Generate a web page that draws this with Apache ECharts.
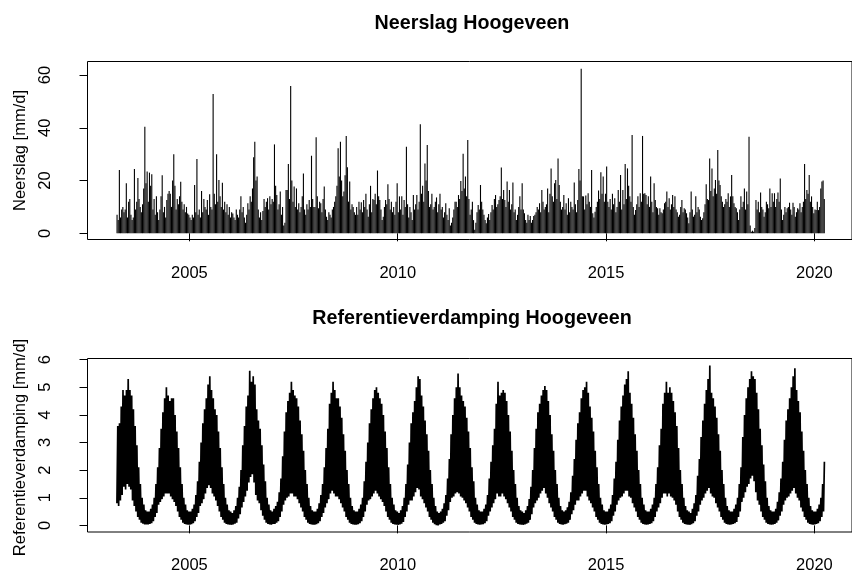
<!DOCTYPE html>
<html>
<head>
<meta charset="utf-8">
<script src="https://cdn.jsdelivr.net/npm/echarts@6.0.0/dist/echarts.min.js"></script>
<style>
  html, body { margin: 0; padding: 0; background: #fff; }
  #chart { width: 852px; height: 574px; }
</style>
</head>
<body>
<div id="chart"></div>
<script>
// Dagneerslag Hoogeveen, hoogste waarde per decade (mm/d), april 2003 t/m maart 2020
const neerslagStartJaar = 2003;
const neerslagStartDecade = 9; // eerste decade van april
const neerslag = [
  /* 2003 */ 7,5,24,6,9,10,8,9,19,6,12,13,7,5,6,24.4,9,12,21,13,10,8,11,17,40.4,19,23.4,
  /* 2004 */ 12,23,18,22.4,9,13,7,14,8,5,9,14,22,8,10,6,12.6,15,16,15,10,20,30,18,9,13,11,14,19.5,12,9,11,8,10,7.5,7,
  /* 2005 */ 6,5,7,6,18.3,8,28.2,7,9,6,16,8,13,10,9,12.6,7,14.8,10,9,52.8,15,11,30,12,20.2,14,10,19.2,9,12,8,11,7,10,6,
  /* 2006 */ 8,7.5,6,5,9,7,6,9,14,8,10,6,4,7,11.4,9,14,12,17,28.8,34.7,20,21.5,9,6,8,5,8.5,13,10,12,13.3,9,14,11,13,
  /* 2007 */ 12,33.7,18,14.5,9,11,15.8,7,10,3,4,16.4,16.4,26.3,13,55.8,20,12,17.7,10,17,9,11.4,8,10,14,22.7,9,7,11,9,12.6,10,29.4,13,10,
  /* 2008 */ 10,36.4,14,9.5,12,11.4,8,13,17.7,9,6.3,5,8,7,6,9,10,12,14,18,32.2,21.5,34.7,20,14,15.8,22,36.9,25,12,19.6,9,11,10,8,7,
  /* 2009 */ 10,7,12,9,11.8,8,12.6,10,15,9,6.3,11,18,8,13,12.6,15,11,23.8,14,12.6,9,5,6.3,10,12.6,11,18.6,13,9,12,8,10,7,12,19,
  /* 2010 */ 8,14,9,14,7,12.6,10,32.8,11,6,10,8,5,14.5,9,11,14.5,9,12,41.3,15,18,12,26.5,20,33.5,16,10,11,15,9,10,12,13.6,8,11,
  /* 2011 */ 15,9,10,6,8,11.4,7,5,9.5,3,4,6,9,12,12,10,14.5,13,19.8,16,30.2,17,21.5,14,35.4,13,7,9,12,5,1.3,4,8,10.7,9,18.3,
  /* 2012 */ 12,9,7,5,3.8,6,7.3,5,8,10.7,9,13,14.5,10,11,12.6,14,24.9,13,16.4,12.6,10,19.6,12,16.4,9,11,19.3,8,9,5,7,10,14,9,19,
  /* 2013 */ 9,7.6,5,4,7,5,6.6,4,5,6.6,7,8,10,9,11.4,8,16.4,12,9,10,11,17,8,15,24.6,14,12,19,20.2,13,28.4,18.3,12,9,10,14.5,
  /* 2014 */ 9,11.4,7,13.3,8,12,10,9,19.3,11,8,12.6,24.4,20,62.4,14,14,9,14.3,11,15.2,12,10,24,7.6,6,8.2,10,12,16.2,13,23.1,15,21.5,12,15,
  /* 2015 */ 25.3,12,10,13,9,15,11,13.3,8,10,16.4,12,22.1,9,16.4,11,26.3,13,24.6,18,14,12,37.3,10,7,8.8,11,14,10,15.2,12,36.9,15,15.2,14.5,11,
  /* 2016 */ 14,10,21.5,12,8,19,12.6,10,9.5,7,9.5,8,7.6,9,11.4,12,15.8,10,13.3,9,11,14.5,10,14,9,8,6.3,7,10,12.6,8,9.5,9,7.6,6,3.8,
  /* 2017 */ 8,15.8,9,6.3,7,14,8,10,9,6.3,5,5.7,8,11,18.6,13,12.6,28.4,16,24.6,14,17,20.2,15,31.6,20,18.3,14,12,10,11,13,12,15.2,10,14,
  /* 2018 */ 22.1,14,11.4,10,9.5,8,5,9,14,10,12,17,9,15.8,11,36.6,3,0.6,1,0.6,2,12.6,9,12,8,15.5,10,9,6.3,8,12,11,9.5,17,10,15.2,
  /* 2019 */ 12,15.2,10,13,15.5,12,20.8,9,5,7,10,8,9.5,10,11.6,9,7,11.6,10,6.3,8,9.5,9,11.4,8,10,12,26.3,13,16.4,15,22.1,12,14,10,7.6,
  /* 2020 */ 9,8.8,12,8.8,10,17,19.6,20,13
];

// Referentieverdamping Hoogeveen per halve maand: hoogste en laagste dagwaarde (mm/d)
const verdampingStartJaar = 2003;
const verdampingStartHalveMaand = 6; // eerste helft van april
const verdampingMax = [
  /* 2003 */ 3.6,3.7,4.3,4.9,4.7,4.9,5.3,4.9,4.7,4.2,3.6,2.9,2.1,1.5,1.0,0.75,0.55,0.5,
  /* 2004 */ 0.5,0.6,0.75,1.0,1.5,2.1,2.8,3.5,4.1,4.6,5.0,4.7,4.5,4.6,4.6,4.0,3.4,2.8,2.1,1.5,1.0,0.75,0.55,0.5,
  /* 2005 */ 0.5,0.6,0.75,1.1,1.6,2.3,3.0,3.7,4.2,4.6,5.1,5.4,4.9,4.6,4.2,4.0,3.4,2.8,2.1,1.5,1.0,0.75,0.55,0.5,
  /* 2006 */ 0.45,0.55,0.7,1.0,1.4,2.0,2.9,3.6,4.3,4.7,5.6,5.2,5.4,5.1,4.2,3.8,3.5,2.9,2.2,1.6,1.0,0.75,0.55,0.5,
  /* 2007 */ 0.6,0.7,0.85,1.2,1.7,2.5,3.4,4.1,4.5,4.8,5.2,4.9,4.7,4.6,4.3,3.8,3.3,2.7,2.0,1.5,1.0,0.7,0.55,0.5,
  /* 2008 */ 0.5,0.6,0.8,1.1,1.5,2.1,2.8,3.5,4.4,4.8,5.2,4.9,4.6,4.6,4.3,3.9,3.3,2.7,2.0,1.5,1.0,0.7,0.55,0.5,
  /* 2009 */ 0.5,0.6,0.75,1.0,1.6,2.3,3.0,3.7,4.2,4.6,4.9,5.0,4.8,4.6,4.4,4.0,3.4,2.8,2.1,1.5,1.0,0.75,0.55,0.5,
  /* 2010 */ 0.45,0.55,0.7,1.0,1.5,2.2,3.0,3.7,4.1,4.5,5.0,5.4,5.3,4.7,4.3,3.8,3.3,2.7,2.0,1.5,1.0,0.7,0.5,0.45,
  /* 2011 */ 0.5,0.6,0.8,1.1,1.7,2.4,3.3,4.0,4.6,5.0,5.5,5.0,4.7,4.5,4.3,3.9,3.4,2.8,2.1,1.6,1.0,0.75,0.55,0.5,
  /* 2012 */ 0.5,0.6,0.75,1.1,1.7,2.3,2.9,3.5,4.4,5.2,4.7,4.8,4.9,4.8,4.5,4.0,3.4,2.7,2.0,1.5,1.0,0.7,0.55,0.5,
  /* 2013 */ 0.45,0.55,0.7,0.95,1.4,2.0,2.8,3.5,4.1,4.4,4.7,4.9,5.05,4.9,4.5,4.0,3.3,2.7,2.0,1.5,1.0,0.7,0.55,0.5,
  /* 2014 */ 0.55,0.65,0.85,1.2,1.8,2.4,3.1,3.7,4.1,4.6,4.9,5.0,5.2,4.8,4.3,3.9,3.4,2.7,2.1,1.5,1.0,0.75,0.55,0.5,
  /* 2015 */ 0.5,0.6,0.75,1.1,1.7,2.3,3.1,3.8,4.3,4.7,5.1,5.3,5.58,4.8,4.4,3.9,3.3,2.7,2.0,1.5,1.0,0.75,0.55,0.5,
  /* 2016 */ 0.5,0.6,0.75,1.0,1.5,2.1,2.9,3.5,4.4,4.8,5.2,4.8,5.0,4.8,4.5,4.1,3.6,2.8,2.0,1.5,1.0,0.7,0.55,0.5,
  /* 2017 */ 0.45,0.6,0.8,1.1,1.8,2.4,3.2,3.8,4.4,4.9,5.3,5.79,4.8,4.6,4.3,3.9,3.3,2.7,2.0,1.5,1.0,0.7,0.55,0.5,
  /* 2018 */ 0.5,0.6,0.75,1.0,1.5,2.1,3.2,4.0,4.6,5.0,5.3,5.58,5.4,5.3,4.8,4.2,3.5,2.9,2.2,1.6,1.0,0.7,0.55,0.5,
  /* 2019 */ 0.5,0.6,0.85,1.2,1.7,2.3,3.1,3.8,4.2,4.6,5.0,5.4,5.69,4.9,4.5,4.1,3.4,2.7,2.0,1.5,1.0,0.7,0.55,0.5,
  /* 2020 */ 0.5,0.6,0.75,1.0,1.5,2.3
];
const verdampingMin = [
  /* 2003 */ 0.8,0.7,0.9,1.1,1.4,1.3,1.5,1.4,1.3,0.9,0.7,0.5,0.3,0.2,0.1,0.06,0.03,0.03,
  /* 2004 */ 0.03,0.05,0.08,0.15,0.3,0.45,0.75,0.85,0.95,1.05,1.15,1.15,1.15,1.05,0.95,0.85,0.7,0.5,0.3,0.2,0.1,0.05,0.03,0.02,
  /* 2005 */ 0.02,0.04,0.08,0.15,0.3,0.45,0.7,0.8,0.95,1.15,1.35,1.45,1.35,1.15,1.05,0.9,0.7,0.5,0.3,0.2,0.1,0.05,0.03,0.02,
  /* 2006 */ 0.02,0.03,0.06,0.1,0.25,0.4,0.65,0.85,1.05,1.25,1.55,1.75,1.85,1.55,1.1,0.9,0.8,0.55,0.35,0.2,0.1,0.05,0.03,0.02,
  /* 2007 */ 0.05,0.05,0.1,0.15,0.3,0.5,0.75,0.9,1.0,1.05,1.15,1.15,1.05,1.05,0.95,0.8,0.65,0.5,0.3,0.2,0.1,0.05,0.03,0.02,
  /* 2008 */ 0.02,0.04,0.08,0.15,0.3,0.45,0.65,0.8,0.95,1.15,1.25,1.15,1.05,1.05,0.95,0.8,0.65,0.5,0.3,0.2,0.1,0.05,0.03,0.02,
  /* 2009 */ 0.02,0.04,0.08,0.15,0.3,0.5,0.75,0.9,0.95,1.05,1.15,1.25,1.15,1.05,0.95,0.85,0.7,0.5,0.3,0.2,0.1,0.05,0.03,0.02,
  /* 2010 */ 0.02,0.03,0.06,0.12,0.3,0.5,0.75,0.9,0.9,1.05,1.2,1.35,1.3,1.05,0.95,0.8,0.65,0.5,0.3,0.2,0.1,0.04,0.01,0.0,
  /* 2011 */ 0.03,0.05,0.1,0.15,0.35,0.55,0.85,1.0,1.05,1.15,1.2,1.15,1.05,1.0,0.9,0.8,0.65,0.5,0.3,0.2,0.1,0.05,0.03,0.02,
  /* 2012 */ 0.03,0.04,0.08,0.15,0.35,0.5,0.65,0.8,0.95,1.15,1.05,1.05,1.15,1.05,0.95,0.8,0.65,0.5,0.3,0.2,0.1,0.05,0.03,0.02,
  /* 2013 */ 0.02,0.03,0.06,0.1,0.2,0.4,0.65,0.8,0.9,1.0,1.15,1.25,1.35,1.15,1.0,0.8,0.65,0.5,0.3,0.2,0.1,0.05,0.03,0.02,
  /* 2014 */ 0.04,0.06,0.1,0.2,0.4,0.55,0.75,0.9,0.9,1.05,1.15,1.25,1.25,1.05,0.9,0.8,0.65,0.5,0.3,0.2,0.1,0.05,0.03,0.02,
  /* 2015 */ 0.03,0.05,0.08,0.15,0.35,0.5,0.75,0.9,1.0,1.05,1.15,1.25,1.25,1.05,1.0,0.8,0.65,0.5,0.3,0.2,0.1,0.05,0.03,0.02,
  /* 2016 */ 0.03,0.05,0.08,0.15,0.3,0.5,0.65,0.8,1.0,1.15,1.15,1.05,1.15,1.05,1.0,0.9,0.75,0.5,0.3,0.2,0.1,0.05,0.03,0.02,
  /* 2017 */ 0.02,0.04,0.08,0.15,0.35,0.5,0.75,0.9,1.0,1.15,1.25,1.35,1.15,1.05,1.0,0.8,0.65,0.5,0.3,0.2,0.1,0.05,0.03,0.02,
  /* 2018 */ 0.03,0.05,0.08,0.12,0.3,0.5,0.85,1.0,1.2,1.4,1.5,1.7,1.8,1.6,1.2,0.9,0.75,0.5,0.3,0.2,0.1,0.05,0.03,0.02,
  /* 2019 */ 0.03,0.05,0.1,0.18,0.35,0.5,0.75,0.9,1.0,1.05,1.15,1.25,1.35,1.15,1.0,0.9,0.65,0.5,0.3,0.2,0.1,0.05,0.03,0.02,
  /* 2020 */ 0.03,0.05,0.08,0.15,0.3,0.5
];

// As-indelingen
const jaarTicks = [2005, 2010, 2015, 2020];
const neerslagTicks = [0, 20, 40, 60];
const verdampingTicks = [0, 1, 2, 3, 4, 5, 6];

// Decadewaarden op een decimale tijdas (midden van de decade)
const neerslagPunten = neerslag.map((v, i) => {
  const d = neerslagStartDecade + i;
  return [neerslagStartJaar + (d + 0.5) / 36, v];
});

// Per halve maand eerst de laagste, dan de hoogste dagwaarde: de lijn zigzagt door de band
const verdampingPunten = [];
verdampingMax.forEach((hoog, i) => {
  const h = verdampingStartHalveMaand + i;
  const t0 = verdampingStartJaar + h / 24;
  verdampingPunten.push([t0 + 0.25 / 24, verdampingMin[i]]);
  verdampingPunten.push([t0 + 0.75 / 24, hoog]);
});

const FONT = '"Liberation Sans", Arial, Helvetica, sans-serif';
const xMin = 2002.5545, xMax = 2020.902;

function xAs(gridIndex) {
  return {
    type: 'value', gridIndex, min: xMin, max: xMax,
    axisLine: { show: false },
    splitLine: { show: false },
    axisTick: { show: true, length: 8, customValues: jaarTicks, lineStyle: { color: '#000', width: 1 } },
    axisLabel: { customValues: jaarTicks, margin: 25, fontSize: 16.5, fontFamily: FONT, color: '#000',
                 formatter: v => String(v) }
  };
}
function yAs(gridIndex, min, max, ticks) {
  return {
    type: 'value', gridIndex, min, max,
    axisLine: { show: false },
    splitLine: { show: false },
    axisTick: { show: true, length: 8, customValues: ticks, lineStyle: { color: '#000', width: 1 } },
    axisLabel: { customValues: ticks, rotate: 90, margin: 34, fontSize: 16.5, fontFamily: FONT, color: '#000',
                 formatter: v => String(v) }
  };
}

const chart = echarts.init(document.getElementById('chart'), null, { renderer: 'canvas' });
chart.setOption({
  animation: false,
  backgroundColor: '#fff',
  grid: [
    { left: 87.5, top: 61.5, width: 769, height: 178, show: true, borderColor: '#000', borderWidth: 1, backgroundColor: 'transparent' },
    { left: 87.5, top: 358.5, width: 769, height: 178, show: true, borderColor: '#000', borderWidth: 1, backgroundColor: 'transparent' }
  ],
  xAxis: [xAs(0), xAs(1)],
  yAxis: [yAs(0, -2.35, 65.12, neerslagTicks), yAs(1, -0.24, 6.042, verdampingTicks)],
  graphic: [
    { type: 'text', x: 472, y: 23.5, style: { text: 'Neerslag Hoogeveen', font: 'bold 19.7px ' + FONT, fill: '#000', textAlign: 'center', textVerticalAlign: 'middle' } },
    { type: 'text', x: 472, y: 319, style: { text: 'Referentieverdamping Hoogeveen', font: 'bold 19.7px ' + FONT, fill: '#000', textAlign: 'center', textVerticalAlign: 'middle' } },
    { type: 'text', x: 20, y: 150.5, rotation: Math.PI / 2, style: { text: 'Neerslag [mm/d]', font: '16.5px ' + FONT, fill: '#000', textAlign: 'center', textVerticalAlign: 'middle' } },
    { type: 'text', x: 20, y: 447.5, rotation: Math.PI / 2, style: { text: 'Referentieverdamping [mm/d]', font: '16.5px ' + FONT, fill: '#000', textAlign: 'center', textVerticalAlign: 'middle' } }
  ],
  series: [
    { type: 'bar', xAxisIndex: 0, yAxisIndex: 0, data: neerslagPunten, barWidth: 1.1,
      itemStyle: { color: '#000' }, silent: true, large: false },
    { type: 'line', xAxisIndex: 1, yAxisIndex: 1, data: verdampingPunten, showSymbol: false, symbol: 'none',
      lineStyle: { color: '#000', width: 1.7 }, silent: true }
  ]
});
</script>
</body>
</html>
